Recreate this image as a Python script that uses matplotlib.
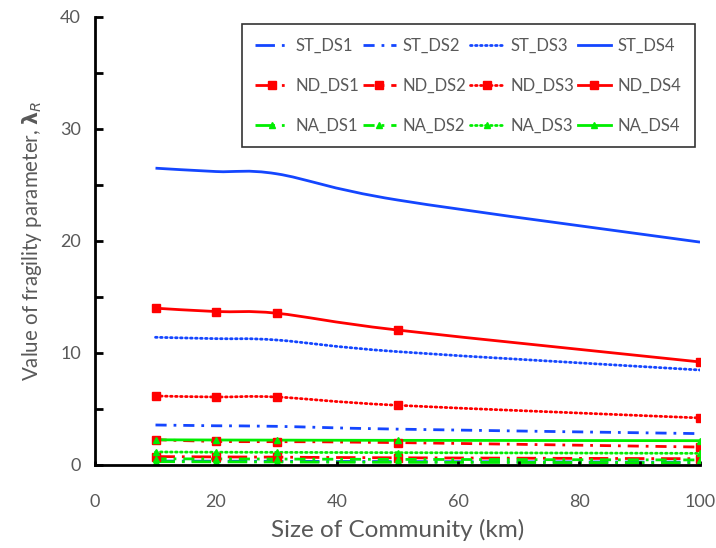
import matplotlib
matplotlib.use("Agg")
import matplotlib.pyplot as plt
from matplotlib.path import Path
from matplotlib.patches import PathPatch
from matplotlib.lines import Line2D
from matplotlib.ticker import MultipleLocator

plt.rcParams['font.family'] = ['Lato', 'DejaVu Sans']
plt.rcParams['mathtext.fontset'] = 'dejavusans'

# community size (km)
size_km = [10, 20, 30, 50, 100]

# fragility parameter per damage state
st_ds1 = [0.35, 0.34, 0.33, 0.30, 0.25]
st_ds2 = [3.57, 3.50, 3.45, 3.20, 2.80]
st_ds3 = [11.40, 11.28, 11.16, 10.12, 8.48]
st_ds4 = [26.50, 26.20, 26.00, 23.66, 19.90]

nd_ds1 = [0.75, 0.72, 0.70, 0.64, 0.56]
nd_ds2 = [2.26, 2.10, 2.08, 2.00, 1.60]
nd_ds3 = [6.16, 6.07, 6.07, 5.33, 4.20]
nd_ds4 = [14.00, 13.70, 13.55, 12.05, 9.20]

na_ds1 = [0.30, 0.28, 0.27, 0.24, 0.20]
na_ds2 = [0.55, 0.54, 0.53, 0.50, 0.45]
na_ds3 = [1.16, 1.14, 1.13, 1.10, 1.04]
na_ds4 = [2.25, 2.23, 2.22, 2.20, 2.17]

blue = '#1446FF'
red = '#FF0000'
green = '#00EE00'
grey = '#595959'

styles = {
    'DS1': (0, (7, 2.5, 1, 2.5)),
    'DS2': (0, (4, 2.5, 1, 2.5)),
    'DS3': (0, (0.6, 1.2)),
    'DS4': '-',
}


def smooth_path(x, y):
    # cubic bezier through the points (Catmull-Rom style tangents)
    pts = list(zip(x, y))
    verts = [pts[0]]
    codes = [Path.MOVETO]
    n = len(pts)
    for i in range(n - 1):
        p0 = pts[max(i - 1, 0)]
        p1 = pts[i]
        p2 = pts[i + 1]
        p3 = pts[min(i + 2, n - 1)]
        c1 = (p1[0] + (p2[0] - p0[0]) / 6, p1[1] + (p2[1] - p0[1]) / 6)
        c2 = (p2[0] - (p3[0] - p1[0]) / 6, p2[1] - (p3[1] - p1[1]) / 6)
        verts += [c1, c2, p2]
        codes += [Path.CURVE4] * 3
    return Path(verts, codes)


fig = plt.figure(figsize=(7.16, 5.48), dpi=100)
ax = fig.add_axes([0.1327, 0.1515, 0.845, 0.8175])

series = [
    ('ST_DS1', st_ds1, blue, 'DS1', None),
    ('ND_DS1', nd_ds1, red, 'DS1', 's'),
    ('NA_DS1', na_ds1, green, 'DS1', '^'),
    ('ST_DS2', st_ds2, blue, 'DS2', None),
    ('ND_DS2', nd_ds2, red, 'DS2', 's'),
    ('NA_DS2', na_ds2, green, 'DS2', '^'),
    ('ST_DS3', st_ds3, blue, 'DS3', None),
    ('ND_DS3', nd_ds3, red, 'DS3', 's'),
    ('NA_DS3', na_ds3, green, 'DS3', '^'),
    ('ST_DS4', st_ds4, blue, 'DS4', None),
    ('ND_DS4', nd_ds4, red, 'DS4', 's'),
    ('NA_DS4', na_ds4, green, 'DS4', '^'),
]

handles = []
for name, vals, col, ds, mk in series:
    ms = 6 if mk == 's' else 5
    cap = 'round' if ds == 'DS3' else 'butt'
    ax.add_patch(PathPatch(smooth_path(size_km, vals), fill=False,
                           edgecolor=col, linestyle=styles[ds], linewidth=2,
                           capstyle=cap))
    if mk:
        ax.plot(size_km, vals, linestyle='none', marker=mk, markersize=ms,
                color=col)
    handles.append(Line2D([], [], color=col, linestyle=styles[ds],
                          linewidth=2, marker=mk, markersize=ms,
                          dash_capstyle=cap, label=name))

ax.set_xlim(0, 100)
ax.set_ylim(0, 40)
ax.xaxis.set_major_locator(MultipleLocator(20))
ax.xaxis.set_minor_locator(MultipleLocator(10))
ax.yaxis.set_major_locator(MultipleLocator(10))
ax.yaxis.set_minor_locator(MultipleLocator(5))

for side in ['top', 'right']:
    ax.spines[side].set_visible(False)
for side in ['left', 'bottom']:
    ax.spines[side].set_linewidth(2)
    ax.spines[side].set_color('black')

ax.tick_params(which='both', direction='in', color='black', width=2,
               labelsize=13, labelcolor=grey)
ax.tick_params(axis='y', which='both', length=6)
ax.tick_params(axis='x', which='both', length=3)
ax.tick_params(axis='y', which='major', pad=10)
ax.tick_params(axis='x', which='major', pad=21)

ax.set_xlabel('Size of Community (km)', fontsize=17.5, color=grey, labelpad=6)
ax.set_ylabel(r'Value of fragility parameter, $\mathbf{\lambda}_{R}$',
              fontsize=14.8, color=grey, labelpad=12)

leg = ax.legend(handles=handles, ncol=4, loc='upper left',
                bbox_to_anchor=(0.243, 0.984),
                fontsize=12, frameon=True, fancybox=False, edgecolor='black',
                handlelength=2.0, handletextpad=0.4, columnspacing=0.22,
                labelspacing=1.45, borderpad=0.8, borderaxespad=0,
                numpoints=1)
leg.get_frame().set_linewidth(1.2)
for t in leg.get_texts():
    t.set_color(grey)

fig.savefig('out.png', dpi=100)
